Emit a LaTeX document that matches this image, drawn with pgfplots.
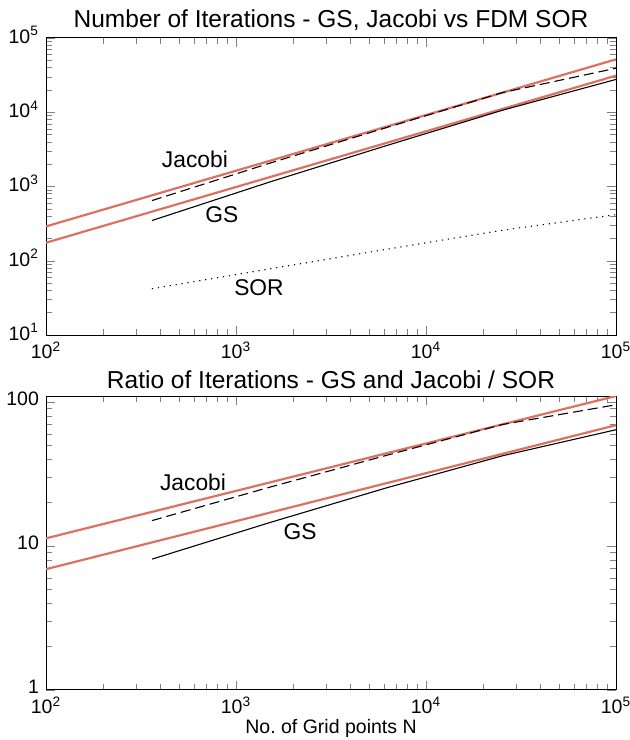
\documentclass[border=0pt]{standalone}
\usepackage{fontspec}
\setmainfont{Liberation Sans}
\usepackage{pgfplots}
\pgfplotsset{compat=1.18}
\definecolor{fitred}{RGB}{222,112,98}

\tikzset{
  fitline/.style={fitred, line width=1.1pt},
  dataline/.style={black, line width=0.55pt},
  lab/.style={font=\fontsize{11.4}{13}\selectfont},
}

\pgfplotsset{every axis/.append style={
    scale only axis, width=285pt,
    xmin=100, xmax=1e5,
    xtick={100,1000,10000,100000},
    xticklabels={10\textsuperscript{2},10\textsuperscript{3},10\textsuperscript{4},10\textsuperscript{5}},
    minor xtick={200,300,400,500,600,700,800,900,2000,3000,4000,5000,6000,7000,8000,9000,20000,30000,40000,50000,60000,70000,80000,90000},
    tick label style={font=\fontsize{9.75}{11}\selectfont},
    yticklabel style={yshift=1.5pt},
    title style={font=\fontsize{12.25}{14}\selectfont, yshift=-6pt},
    xlabel style={font=\fontsize{9.75}{11}\selectfont, yshift=4pt},
    axis line style={line width=0.5pt},
  }}

\begin{document}
\begin{tikzpicture}
\useasboundingbox (-23pt,-202.5pt) rectangle (291.5pt,167.5pt);

\begin{loglogaxis}[at={(0pt,0pt)}, anchor=south west, height=148.5pt,
  ymin=10, ymax=1e5,
  ytick={10,100,1000,10000,100000},
  yticklabels={10\textsuperscript{1},10\textsuperscript{2},10\textsuperscript{3},10\textsuperscript{4},10\textsuperscript{5}},
  minor ytick={20,30,40,50,60,70,80,90,200,300,400,500,600,700,800,900,2000,3000,4000,5000,6000,7000,8000,9000,20000,30000,40000,50000,60000,70000,80000,90000},
  title={Number of Iterations - GS, Jacobi vs FDM SOR}]
  % fitted curves
  \addplot[fitline] coordinates {(100,290) (100000,51560)};
  \addplot[fitline] coordinates {(100,175) (100000,31100)};
  % Jacobi
  \addplot[dataline, dash pattern=on 5pt off 2.5pt] coordinates {(361,646) (1521,2077) (6241,6250) (25281,18400) (101761,39500)};
  % GS
  \addplot[dataline] coordinates {(361,348) (1521,1160) (6241,3575) (25281,10650) (101761,28000)};
  % SOR
  \addplot[dataline, dash pattern=on 0.6pt off 2.4pt] coordinates {(361,42) (1521,78) (6241,143) (25281,258) (101761,420)};
  \node[lab] at (axis cs:608,2350) {Jacobi};
  \node[lab] at (axis cs:843,415) {GS};
  \node[lab] at (axis cs:1321,43) {SOR};
\end{loglogaxis}

\begin{loglogaxis}[at={(0pt,-30.5pt)}, anchor=north west, height=147pt,
  ymin=1, ymax=110,
  ytick={1,10,100}, yticklabels={1,10,100},
  minor ytick={2,3,4,5,6,7,8,9,20,30,40,50,60,70,80,90},
  title={Ratio of Iterations - GS and Jacobi / SOR},
  xlabel={No.\ of Grid points N}]
  \addplot[fitline] coordinates {(100,11.3) (100000,110)};
  \addplot[fitline] coordinates {(100,6.9) (100000,69)};
  \addplot[dataline, dash pattern=on 5pt off 2.5pt] coordinates {(361,15.0) (1521,25.7) (6241,42.7) (25281,69.8) (101761,96)};
  \addplot[dataline] coordinates {(361,8.1) (1521,14.6) (6241,25.4) (25281,42.3) (101761,64.5)};
  \node[lab] at (axis cs:594,27.5) {Jacobi};
  \node[lab] at (axis cs:2173,12.6) {GS};
\end{loglogaxis}
\end{tikzpicture}
\end{document}
